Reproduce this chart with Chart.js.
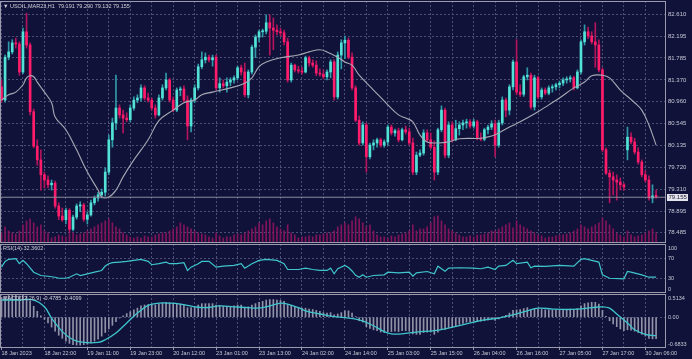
<!DOCTYPE html>
<html>
<head>
<meta charset="utf-8">
<title>USOIL,MAR23,H1</title>
<script src="https://cdn.jsdelivr.net/npm/chart.js@4.4.0/dist/chart.umd.min.js"></script>
<style>
  html, body { margin: 0; padding: 0; }
  body { width: 692px; height: 359px; background: #10123a; position: relative; overflow: hidden; }
  canvas { position: absolute; left: 0; }
  #main { top: 0; }
  #rsi { top: 243px; }
  #macd { top: 293px; }
  .label { position: absolute; left: 3px; font: 5.5px "Liberation Sans", Arial, sans-serif; line-height: 6px; color: #d0d0da; white-space: pre; }
</style>
</head>
<body>
<canvas id="main" width="692" height="244"></canvas>
<canvas id="rsi" width="692" height="51"></canvas>
<canvas id="macd" width="692" height="66"></canvas>
<div class="label" id="title" style="top:3px"></div>
<div class="label" id="rsiLabel" style="top:245px">RSI(14) 32.3602</div>
<div class="label" id="macdLabel" style="top:295px">MACD(12,26,9) -0.4785 -0.4099</div>
<script>
// Tick labels of the time axis (one every 12 hourly bars)
const tickLabels = ['18 Jan 2023', '18 Jan 22:00', '19 Jan 11:00', '19 Jan 23:00', '20 Jan 12:00',
    '23 Jan 01:00', '23 Jan 13:00', '24 Jan 02:00', '24 Jan 14:00', '25 Jan 03:00', '25 Jan 15:00',
    '26 Jan 04:00', '26 Jan 16:00', '27 Jan 05:00', '27 Jan 17:00', '30 Jan 06:00'];
const priceTicks = [82.610, 82.195, 81.785, 81.370, 80.960, 80.545, 80.135, 79.720, 79.310, 78.895, 78.485];
const rsiTicks = [100, 70, 30, 0];
const macdTicks = [0.5134, 0, -0.6833];
const macdTickLabels = ['0.5134', '0.00', '-0.6833'];

// Hourly candles, 18 Jan 10:00 .. 30 Jan 09:00
const openPrices = [
    81.24, 80.99, 81.80, 81.90, 82.07, 82.05, 81.52, 82.28, 82.03, 80.77,
    80.12, 79.86, 79.58, 79.48, 79.39, 79.42, 78.99, 78.80, 78.73, 78.91,
    78.55, 78.78, 78.99, 79.01, 78.74, 78.82, 79.05, 79.14, 79.20, 79.25,
    79.63, 80.24, 80.56, 80.84, 80.71, 80.65, 80.62, 80.84, 80.99, 81.03,
    81.22, 81.03, 80.99, 80.84, 80.71, 81.03, 81.22, 81.37, 80.99, 80.80,
    81.18, 81.20, 80.99, 80.50, 80.99, 81.22, 81.62, 81.75, 81.80, 81.75,
    81.80, 81.22, 81.30, 81.26, 81.33, 81.37, 81.41, 81.60, 81.52, 81.09,
    81.52, 81.99, 82.18, 82.28, 82.29, 82.45, 82.35, 82.31, 82.28, 82.26,
    82.09, 81.37, 81.65, 81.56, 81.54, 81.52, 81.79, 81.69, 81.65, 81.50,
    81.48, 81.43, 81.52, 81.71, 81.05, 81.84, 82.07, 82.12, 81.80, 81.22,
    80.61, 80.18, 80.52, 79.92, 80.14, 80.18, 80.24, 80.14, 80.20, 80.48,
    80.37, 80.41, 80.24, 80.43, 80.39, 80.18, 79.63, 79.95, 79.99, 80.37,
    80.24, 80.10, 79.63, 80.43, 80.80, 79.95, 80.52, 80.24, 80.45, 80.52,
    80.56, 80.58, 80.50, 80.58, 80.27, 80.25, 80.43, 80.48, 80.54, 80.14,
    80.56, 80.99, 80.80, 81.24, 81.71, 81.14, 81.10, 81.43, 81.46, 80.86,
    81.41, 81.05, 81.18, 81.12, 81.22, 81.24, 81.28, 81.31, 81.37, 81.39,
    81.41, 81.22, 81.52, 82.09, 82.28, 82.20, 82.09, 82.03, 81.56, 80.05,
    79.61, 79.54, 79.48, 79.44, 79.39, 80.05, 80.29, 80.20, 80.01, 79.82,
    79.58, 79.48, 79.14, 79.191
];
const highPrices = [
    81.37, 81.84, 82.09, 82.13, 82.16, 82.09, 82.35, 82.63, 82.07, 80.82,
    80.24, 80.05, 79.63, 79.56, 79.48, 79.46, 79.05, 78.95, 78.95, 78.94,
    78.82, 79.03, 79.07, 79.04, 78.88, 79.10, 79.18, 79.25, 79.31, 79.71,
    80.33, 80.65, 81.46, 80.90, 80.80, 80.75, 80.90, 81.05, 81.09, 81.28,
    81.26, 81.12, 81.03, 80.90, 81.09, 81.28, 81.50, 81.40, 81.05, 81.22,
    81.24, 81.26, 81.07, 81.03, 81.28, 81.67, 81.90, 81.88, 81.84, 81.84,
    81.84, 81.41, 81.37, 81.41, 81.41, 81.45, 81.63, 81.65, 81.69, 81.56,
    82.03, 82.22, 82.31, 82.33, 82.60, 82.60, 82.54, 82.41, 82.35, 82.31,
    82.16, 81.69, 81.67, 81.63, 81.61, 81.82, 81.82, 81.75, 81.73, 81.58,
    81.56, 81.56, 81.75, 81.75, 81.90, 82.13, 82.20, 82.16, 81.88, 81.26,
    80.69, 80.58, 80.56, 80.18, 80.24, 80.27, 80.27, 80.24, 80.52, 80.52,
    80.44, 80.46, 80.46, 80.50, 80.46, 80.27, 80.01, 80.05, 80.43, 80.43,
    80.37, 80.22, 80.46, 80.88, 80.84, 80.58, 80.58, 80.61, 80.58, 80.61,
    80.63, 80.62, 80.63, 80.61, 80.37, 80.46, 80.52, 80.60, 80.61, 80.61,
    81.05, 81.03, 81.28, 81.75, 82.13, 81.28, 81.46, 81.60, 81.50, 81.46,
    81.44, 81.22, 81.22, 81.26, 81.28, 81.31, 81.35, 81.41, 81.43, 81.45,
    81.44, 81.56, 82.13, 82.41, 82.37, 82.28, 82.45, 82.13, 81.60, 80.09,
    79.67, 79.63, 79.58, 79.52, 79.42, 80.48, 80.37, 80.27, 80.09, 79.86,
    79.65, 79.56, 79.39, 79.290
];
const lowPrices = [
    80.95, 80.95, 81.75, 81.86, 81.97, 81.46, 81.49, 81.97, 80.71, 80.09,
    79.76, 79.29, 79.33, 79.33, 79.29, 78.95, 78.73, 78.70, 78.65, 78.48,
    78.52, 78.74, 78.88, 78.70, 78.65, 78.80, 79.01, 79.08, 79.14, 79.18,
    79.58, 80.10, 80.43, 80.65, 80.37, 80.58, 80.58, 80.80, 80.94, 80.97,
    80.99, 80.95, 80.80, 80.65, 80.69, 80.99, 81.18, 80.95, 80.77, 80.77,
    81.07, 80.95, 80.24, 80.39, 80.94, 81.18, 81.58, 81.69, 81.71, 81.63,
    81.18, 81.14, 81.22, 81.14, 81.26, 81.31, 81.37, 81.46, 81.05, 81.03,
    81.48, 81.79, 82.09, 82.18, 82.24, 81.84, 81.94, 82.22, 82.20, 82.03,
    81.33, 81.33, 81.52, 81.50, 81.48, 81.50, 81.63, 81.61, 81.45, 81.44,
    81.39, 81.37, 81.41, 80.99, 81.01, 81.58, 81.77, 81.77, 81.18, 80.58,
    80.14, 80.14, 79.63, 79.88, 80.05, 80.10, 80.10, 80.10, 80.14, 80.33,
    80.31, 80.20, 80.22, 80.35, 80.14, 79.58, 79.58, 79.92, 79.95, 80.20,
    80.07, 79.48, 79.58, 80.39, 79.90, 79.90, 80.20, 80.22, 80.33, 80.43,
    80.46, 80.46, 80.46, 80.24, 80.22, 80.22, 80.35, 80.43, 79.92, 80.10,
    80.52, 80.67, 80.71, 81.18, 81.09, 81.06, 81.06, 81.37, 80.82, 80.80,
    81.01, 81.01, 81.09, 81.09, 81.14, 81.18, 81.22, 81.26, 81.31, 81.33,
    81.18, 81.20, 81.48, 82.03, 82.15, 82.05, 81.61, 81.52, 80.01, 79.58,
    79.05, 79.20, 79.10, 79.29, 79.29, 79.86, 80.16, 79.97, 79.78, 79.54,
    79.44, 79.10, 79.05, 79.132
];
const closePrices = [
    80.99, 81.80, 81.90, 82.07, 82.05, 81.52, 82.28, 82.03, 80.77, 80.12,
    79.86, 79.58, 79.48, 79.39, 79.42, 78.99, 78.80, 78.73, 78.91, 78.55,
    78.78, 78.99, 79.01, 78.74, 78.82, 79.05, 79.14, 79.20, 79.25, 79.63,
    80.24, 80.56, 80.84, 80.71, 80.65, 80.62, 80.84, 80.99, 81.03, 81.22,
    81.03, 80.99, 80.84, 80.71, 81.03, 81.22, 81.37, 80.99, 80.80, 81.18,
    81.20, 80.99, 80.50, 80.99, 81.22, 81.62, 81.75, 81.80, 81.75, 81.79,
    81.22, 81.30, 81.26, 81.33, 81.37, 81.41, 81.60, 81.52, 81.09, 81.52,
    81.99, 82.18, 82.28, 82.29, 82.45, 82.35, 82.31, 82.28, 82.26, 82.09,
    81.37, 81.65, 81.56, 81.54, 81.52, 81.79, 81.69, 81.65, 81.50, 81.48,
    81.43, 81.52, 81.71, 81.05, 81.84, 82.07, 82.12, 81.80, 81.22, 80.61,
    80.18, 80.52, 79.92, 80.14, 80.18, 80.24, 80.14, 80.20, 80.48, 80.37,
    80.41, 80.24, 80.43, 80.39, 80.18, 79.63, 79.95, 79.99, 80.37, 80.24,
    80.10, 79.63, 80.43, 80.80, 79.95, 80.52, 80.24, 80.45, 80.52, 80.56,
    80.58, 80.50, 80.58, 80.27, 80.25, 80.43, 80.48, 80.54, 80.14, 80.56,
    80.99, 80.80, 81.24, 81.71, 81.14, 81.10, 81.43, 81.46, 80.86, 81.41,
    81.05, 81.18, 81.12, 81.22, 81.24, 81.28, 81.31, 81.37, 81.39, 81.41,
    81.22, 81.52, 82.09, 82.28, 82.20, 82.09, 82.03, 81.56, 80.05, 79.61,
    79.54, 79.48, 79.44, 79.39, 79.35, 80.29, 80.20, 80.01, 79.82, 79.58,
    79.48, 79.14, 79.18, 79.155
];
const volumes = [
    2500, 4000, 3000, 2500, 2250, 3000, 4500, 5500, 6000, 5000, 4000, 4500, 3000, 2500,
    1250, 1500, 2000, 1750, 1500, 2250, 2500, 2000, 2250, 2500, 3000, 3500, 4000, 4500, 5000, 5500, 6000, 5000, 4000, 3500, 2500, 2000, 1500,
    1250, 1500, 1250, 1750, 1500, 1500, 2000, 2250, 2500, 2500, 3000, 3500, 4000, 5000, 4500, 4000, 3500, 3000, 2500, 2250, 2000, 1500, 1250,
    2500, 1750, 1250, 1500, 1500, 2000, 2250, 2000, 2500, 3000, 3500, 4000, 5000, 4500, 5500, 6000, 5000, 4000, 3500, 3000, 4500, 2500, 2000,
    1250, 1500, 1500, 1750, 1500, 2000, 2000, 2250, 2500, 2500, 3000, 4000, 4500, 5000, 4500, 5500, 6500, 6000, 5000, 4000, 4500, 3000, 2000,
    1500, 1500, 1250, 1750, 1500, 2000, 2250, 2500, 3000, 4500, 3000, 3500, 3500, 4000, 5000, 6500, 6750, 5500, 4500, 3500, 3000, 2500, 2000,
    1500, 1500, 1750, 1500, 2000, 2000, 2250, 2500, 3000, 3000, 3500, 4000, 4500, 5000, 3750, 5500, 4500, 4000, 3500, 3000, 2500, 2000, 1750,
    1250, 1500, 1500, 1750, 2000, 2000, 2250, 2500, 3000, 3500, 4500, 4000, 3500, 4000, 4500, 5000, 6250, 5500, 4500, 3500, 2500, 2000, 1500,
    3000, 2000, 1500, 1750, 2000, 2500, 3000, 3500, 2500
];

// Moving average: [bar index, price]
const maPoints = [
    [0, 80.99], [2, 81.09], [4, 81.14], [6, 81.28], [7, 81.41], [8, 81.45], [9, 81.43], [10, 81.33],
    [12, 81.14], [14, 80.94], [15, 80.67], [18, 80.43], [21, 80.05], [24, 79.63], [27, 79.29], [28, 79.16],
    [30, 79.16], [32, 79.29], [34, 79.54], [37, 79.86], [41, 80.24], [44, 80.60], [48, 80.80], [51, 80.94],
    [54, 80.99], [56, 81.09], [59, 81.14], [64, 81.22], [68, 81.31], [70, 81.41], [72, 81.62], [74, 81.71],
    [78, 81.79], [83, 81.84], [86, 81.90], [89, 81.94], [91, 81.90], [94, 81.80], [96, 81.71], [98, 81.65],
    [100, 81.46], [104, 81.18], [108, 80.90], [111, 80.71], [113, 80.65], [115, 80.58], [117, 80.33],
    [119, 80.20], [122, 80.18], [125, 80.20], [128, 80.26], [134, 80.27], [137, 80.31], [139, 80.37],
    [142, 80.48], [145, 80.58], [150, 80.77], [153, 80.90], [156, 81.03], [160, 81.22], [163, 81.33],
    [165, 81.45], [168, 81.46], [170, 81.41], [173, 81.18], [177, 80.94], [179, 80.80], [181, 80.52], [183, 80.14]
];

// RSI(14): [bar index, value]
const rsiPoints = [
    [0, 52.8], [1, 64.5], [2, 68.7], [4, 70.1], [5, 59.8], [6, 66.6], [7, 59.8], [9, 42.5], [11, 35.7],
    [13, 34.2], [15, 32.2], [16, 30.1], [18, 30.1], [19, 32.2], [21, 39.2], [22, 35.7], [24, 39.2],
    [26, 42.5], [28, 46.0], [29, 55.0], [30, 59.8], [31, 61.9], [33, 63.1], [35, 64.5], [37, 66.6],
    [39, 68.7], [41, 64.5], [42, 57.7], [44, 59.8], [46, 63.1], [47, 59.8], [49, 59.8], [51, 61.9],
    [52, 46.0], [53, 52.8], [55, 59.8], [56, 64.5], [58, 64.5], [60, 52.8], [62, 54.8], [65, 56.3],
    [67, 59.8], [68, 50.7], [70, 59.8], [72, 66.6], [74, 68.7], [77, 66.6], [79, 59.8], [80, 48.0],
    [83, 48.0], [85, 50.7], [87, 48.0], [89, 46.0], [91, 46.0], [92, 50.7], [93, 39.2], [94, 49.5],
    [96, 56.3], [97, 52.0], [98, 45.0], [99, 36.0], [100, 32.2], [101, 37.1], [102, 32.2], [104, 35.7],
    [107, 37.1], [108, 42.5], [111, 41.2], [114, 42.5], [115, 34.2], [116, 41.2], [119, 43.9],
    [121, 39.2], [122, 54.8], [124, 44.5], [125, 50.7], [128, 51.5], [132, 50.7], [134, 49.5],
    [136, 52.8], [138, 48.0], [139, 54.8], [141, 56.3], [143, 66.6], [144, 59.8], [147, 63.1],
    [148, 51.5], [149, 54.8], [152, 54.2], [156, 56.3], [160, 54.8], [162, 68.7], [163, 70.1],
    [165, 66.6], [167, 63.1], [168, 37.1], [170, 30.1], [174, 28.9], [175, 43.9], [176, 42.5],
    [179, 37.1], [181, 32.2], [183, 32.36]
];

// MACD signal line: [bar index, value]
const signalPoints = [
    [0, 0.38], [5, 0.38], [9, 0.38], [12, 0.23], [14, -0.02], [17, -0.32], [20, -0.50], [23, -0.56],
    [27, -0.56], [29, -0.50], [32, -0.35], [35, -0.13], [38, 0.09], [41, 0.26], [44, 0.31], [47, 0.31],
    [50, 0.29], [54, 0.23], [57, 0.21], [61, 0.25], [65, 0.23], [69, 0.21], [71, 0.20], [74, 0.23],
    [78, 0.31], [80, 0.29], [83, 0.21], [85, 0.14], [89, 0.07], [93, 0.01], [96, -0.01], [100, -0.06],
    [104, -0.19], [107, -0.32], [109, -0.37], [112, -0.37], [116, -0.33], [121, -0.30], [124, -0.26],
    [128, -0.19], [132, -0.11], [135, -0.06], [139, -0.02], [143, 0.05], [147, 0.14], [150, 0.20],
    [154, 0.18], [158, 0.17], [161, 0.18], [165, 0.21], [168, 0.23], [170, 0.20], [172, 0.07],
    [175, -0.13], [177, -0.28], [180, -0.38], [183, -0.41]
];

// MACD main values (histogram), one per bar
const macdHist = [
    0.44, 0.46, 0.48, 0.50, 0.51, 0.47, 0.49, 0.47, 0.36, 0.24,
    0.13, 0.03, -0.05, -0.13, -0.22, -0.31, -0.40, -0.47, -0.53, -0.58,
    -0.61, -0.62, -0.62, -0.61, -0.60, -0.57, -0.53, -0.49, -0.42, -0.34,
    -0.26, -0.18, -0.10, -0.02, 0.03, 0.08, 0.12, 0.16, 0.20, 0.25,
    0.27, 0.28, 0.28, 0.27, 0.29, 0.31, 0.33, 0.32, 0.29, 0.30,
    0.29, 0.27, 0.21, 0.21, 0.23, 0.27, 0.30, 0.30, 0.30, 0.30,
    0.27, 0.26, 0.24, 0.24, 0.24, 0.25, 0.27, 0.27, 0.22, 0.23,
    0.27, 0.30, 0.33, 0.35, 0.38, 0.39, 0.39, 0.38, 0.37, 0.35,
    0.28, 0.26, 0.23, 0.21, 0.20, 0.20, 0.18, 0.17, 0.15, 0.13,
    0.10, 0.09, 0.10, 0.05, 0.07, 0.10, 0.14, 0.14, 0.09, 0.01,
    -0.08, -0.11, -0.21, -0.25, -0.28, -0.30, -0.33, -0.34, -0.32, -0.32,
    -0.31, -0.32, -0.30, -0.30, -0.31, -0.37, -0.38, -0.38, -0.34, -0.33,
    -0.33, -0.38, -0.33, -0.26, -0.27, -0.23, -0.22, -0.19, -0.16, -0.14,
    -0.11, -0.10, -0.09, -0.09, -0.09, -0.08, -0.06, -0.04, -0.07, -0.04,
    0.01, 0.04, 0.09, 0.15, 0.16, 0.17, 0.19, 0.21, 0.17, 0.19,
    0.18, 0.17, 0.16, 0.16, 0.16, 0.16, 0.16, 0.17, 0.17, 0.18,
    0.17, 0.19, 0.25, 0.30, 0.32, 0.33, 0.33, 0.29, 0.15, 0.02,
    -0.08, -0.15, -0.21, -0.26, -0.30, -0.28, -0.29, -0.31, -0.34, -0.38,
    -0.42, -0.47, -0.48, -0.4785
];

const FONT = '"Liberation Sans", Arial, sans-serif';
const GRID = '#4b4e76';
const FRAME = '#9a9aac';
const TEXT = '#c8c8d4';
const BULL = '#52e3d6';
const BEAR = '#ff1c6a';
const BULL_WICK = '#2f9aa8';
const BEAR_WICK = '#b3145c';
const VOLUME = '#82145a';
const CYAN = '#3ec6cc';
const MA_GRAY = '#a8a8b4';
const HIST = '#9292a8';
const X_MIN = -0.42, X_MAX = 185.77;

Chart.defaults.font.family = FONT;
Chart.defaults.animation = false;

const last = closePrices.length - 1;
document.getElementById('title').textContent = '\u25BC USOIL,MAR23,H1  ' +
    [openPrices[last], highPrices[last], lowPrices[last], closePrices[last]].map(v => v.toFixed(3)).join(' ');

const isBull = i => closePrices[i] >= openPrices[i];

// frame round each panel
const framePlugin = {
    id: 'frame',
    afterDraw(chart) {
        const { ctx, chartArea: a } = chart;
        ctx.save();
        ctx.strokeStyle = FRAME;
        ctx.lineWidth = 1;
        ctx.strokeRect(a.left + 0.5, a.top + 0.5, a.right - a.left - 1, a.bottom - a.top - 1);
        ctx.restore();
    }
};

// box with the last price on the price axis
const lastPricePlugin = {
    id: 'lastPrice',
    afterDraw(chart) {
        const { ctx } = chart;
        const y = Math.round(chart.scales.y.getPixelForValue(closePrices[last]));
        ctx.save();
        ctx.fillStyle = '#e4e4ec';
        ctx.fillRect(667, y - 3, 21, 7);
        ctx.fillStyle = '#22223a';
        ctx.font = '6px ' + FONT;
        ctx.textBaseline = 'middle';
        ctx.fillText(closePrices[last].toFixed(3), 668.5, y + 0.5);
        ctx.restore();
    }
};

function timeAxis(withLabels) {
    return {
        type: 'linear',
        min: X_MIN,
        max: X_MAX,
        offset: false,
        afterBuildTicks: scale => {
            const ticks = [];
            for (let v = 0; v <= 180; v += 6) ticks.push({ value: v });
            scale.ticks = ticks;
        },
        grid: {
            offset: false,
            color: GRID,
            drawTicks: withLabels,
            tickLength: 2,
            tickBorderDash: [],
            tickColor: ctx => (ctx.tick && ctx.tick.value % 12 === 0) ? FRAME : 'transparent'
        },
        border: { display: false, dash: [2, 2] },
        ticks: withLabels ? {
            autoSkip: false, maxRotation: 0, align: 'start', padding: 0, color: TEXT,
            font: { size: 5.5 },
            callback: v => (v % 12 === 0 ? tickLabels[v / 12] : '')
        } : { display: false },
        afterFit: scale => {
            scale.height = withLabels ? 11 : 0;
            scale.paddingLeft = 0;
            scale.paddingRight = 0;
        }
    };
}

function rightAxis(extra) {
    return Object.assign({
        position: 'right',
        border: { display: false, dash: [2, 2] },
        afterFit: scale => {
            scale.width = 26;
            scale.paddingTop = 0;
            scale.paddingBottom = 0;
        }
    }, extra);
}

const basePlugins = { legend: { display: false }, tooltip: { enabled: false } };

// price panel
new Chart(document.getElementById('main'), {
    type: 'bar',
    data: {
        datasets: [
            {
                type: 'line', order: 1,
                data: [{ x: X_MIN, y: closePrices[last] }, { x: X_MAX, y: closePrices[last] }],
                borderColor: '#8c8c9c', borderWidth: 1, pointRadius: 0
            },
            {
                type: 'line', order: 2,
                data: maPoints.map(p => ({ x: p[0], y: p[1] })),
                borderColor: MA_GRAY, borderWidth: 1.1, pointRadius: 0, tension: 0.4
            },
            {
                order: 3, grouped: false, barThickness: 2, minBarLength: 1,
                data: openPrices.map((o, i) => ({ x: i, y: [o, closePrices[i]] })),
                backgroundColor: ctx => (isBull(ctx.dataIndex) ? BULL : BEAR)
            },
            {
                order: 4, grouped: false, barThickness: 1,
                data: lowPrices.map((l, i) => ({ x: i, y: [l, highPrices[i]] })),
                backgroundColor: ctx => (isBull(ctx.dataIndex) ? BULL_WICK : BEAR_WICK)
            },
            {
                order: 5, grouped: false, barThickness: 1, yAxisID: 'yVol',
                data: volumes.map((v, i) => ({ x: i, y: v })),
                backgroundColor: VOLUME
            }
        ]
    },
    options: {
        responsive: false,
        devicePixelRatio: 1,
        layout: { padding: { top: 1, bottom: 1, left: 0, right: 0 } },
        plugins: basePlugins,
        scales: {
            x: timeAxis(false),
            y: rightAxis({
                min: 78.291, max: 82.861,
                afterBuildTicks: s => { s.ticks = priceTicks.map(v => ({ value: v })); },
                ticks: { autoSkip: false, padding: 2, color: TEXT, font: { size: 6 }, callback: v => v.toFixed(3) },
                grid: { color: GRID, drawTicks: false }
            }),
            yVol: { axis: 'y', display: false, min: 0, max: 60000 }
        }
    },
    plugins: [framePlugin, lastPricePlugin]
});

// RSI panel
new Chart(document.getElementById('rsi'), {
    type: 'line',
    data: {
        datasets: [{
            data: rsiPoints.map(p => ({ x: p[0], y: p[1] })),
            borderColor: CYAN, borderWidth: 1.2, pointRadius: 0, tension: 0
        }]
    },
    options: {
        responsive: false,
        devicePixelRatio: 1,
        layout: { padding: { top: 1, bottom: 1, left: 0, right: 0 } },
        plugins: basePlugins,
        scales: {
            x: timeAxis(false),
            y: rightAxis({
                min: 0, max: 100,
                afterBuildTicks: s => { s.ticks = rsiTicks.map(v => ({ value: v })); },
                ticks: {
                    autoSkip: false, padding: 2, color: TEXT, font: { size: 5.5, lineHeight: 1.45 },
                    callback: v => (v === 100 ? ['', '100'] : v === 0 ? ['0', ''] : String(v))
                },
                grid: { drawTicks: false, color: ctx => (ctx.tick && (ctx.tick.value === 70 || ctx.tick.value === 30)) ? GRID : 'transparent' }
            })
        }
    },
    plugins: [framePlugin]
});

// MACD panel with the time axis
new Chart(document.getElementById('macd'), {
    type: 'bar',
    data: {
        datasets: [
            {
                type: 'line', order: 1,
                data: signalPoints.map(p => ({ x: p[0], y: p[1] })),
                borderColor: CYAN, borderWidth: 1.3, pointRadius: 0, tension: 0.4
            },
            {
                order: 2, grouped: false, barThickness: 1,
                data: macdHist.map((v, i) => ({ x: i, y: v })),
                backgroundColor: HIST
            }
        ]
    },
    options: {
        responsive: false,
        devicePixelRatio: 1,
        layout: { padding: { top: 1, bottom: 0, left: 0, right: 0 } },
        plugins: basePlugins,
        scales: {
            x: timeAxis(true),
            y: rightAxis({
                min: -0.6833, max: 0.5134,
                afterBuildTicks: s => { s.ticks = macdTicks.map(v => ({ value: v })); },
                ticks: {
                    autoSkip: false, padding: 2, color: TEXT, font: { size: 5.5, lineHeight: 1.45 },
                    callback: (v, i) => (i === 0 ? ['', macdTickLabels[0]] : i === macdTicks.length - 1 ? [macdTickLabels[i], ''] : macdTickLabels[i])
                },
                grid: { drawTicks: false, color: ctx => (ctx.tick && ctx.tick.value === 0) ? GRID : 'transparent' }
            })
        }
    },
    plugins: [framePlugin]
});
</script>
</body>
</html>
